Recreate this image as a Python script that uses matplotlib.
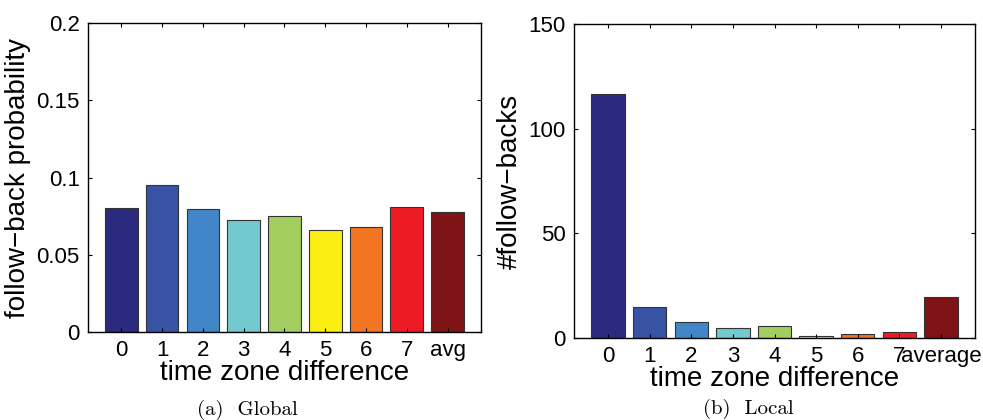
import matplotlib
matplotlib.use("Agg")
import matplotlib.pyplot as plt

# ── Data ──────────────────────────────────────────────────────────────────────
global_labels = ["0", "1", "2", "3", "4", "5", "6", "7", "avg"]
global_prob = [0.0803, 0.0949, 0.0794, 0.0727, 0.0751, 0.0662, 0.0682, 0.0809, 0.0775]

local_labels = ["0", "1", "2", "3", "4", "5", "6", "7", "average"]
local_counts = [116.6, 15.0, 7.8, 4.9, 5.9, 0.8, 1.9, 2.9, 19.5]

bar_colors = ["#2a2a7e", "#3953a4", "#4186c8", "#72c9d0", "#a2cd5f",
              "#fbee13", "#f37421", "#ed1c24", "#7f1416"]

plt.rcParams["font.family"] = ["Liberation Sans", "DejaVu Sans"]
plt.rcParams["axes.linewidth"] = 1.0


def style_axes(ax):
    ax.tick_params(direction="in", length=3, width=0.8, labelsize=16,
                   top=True, right=True, pad=6)
    ax.set_xlim(0.18, 9.82)


fig = plt.figure(figsize=(9.83, 4.2), dpi=100)

# ── (a) Global ────────────────────────────────────────────────────────────────
ax1 = fig.add_axes([0.0895, 0.2095, 0.3998, 0.7357])
x = range(1, len(global_prob) + 1)
ax1.bar(x, global_prob, width=0.8, color=bar_colors,
        edgecolor="#333333", linewidth=0.8)
style_axes(ax1)
ax1.set_ylim(0, 0.2)
ax1.set_yticks([0, 0.05, 0.1, 0.15, 0.2])
ax1.set_yticklabels(["0", "0.05", "0.1", "0.15", "0.2"])
ax1.set_xticks(list(x))
ax1.set_xticklabels(global_labels)
ax1.set_xlabel("time zone difference", fontsize=20, labelpad=-1)
ax1.set_ylabel("follow\u2212back probability", fontsize=20, labelpad=4)

# ── (b) Local ─────────────────────────────────────────────────────────────────
ax2 = fig.add_axes([0.5839, 0.1952, 0.408, 0.7476])
x = range(1, len(local_counts) + 1)
ax2.bar(x, local_counts, width=0.8, color=bar_colors,
        edgecolor="#333333", linewidth=0.8)
style_axes(ax2)
ax2.set_ylim(0, 150)
ax2.set_yticks([0, 50, 100, 150])
ax2.set_xticks(list(x))
ax2.set_xticklabels(local_labels)
ax2.set_xlabel("time zone difference", fontsize=20, labelpad=-1)
ax2.set_ylabel("#follow\u2212backs", fontsize=20, labelpad=4)

# sub-captions
fig.text(0.252, 0.024, "(a)  Global", family="cmr10", fontsize=15,
         ha="center", va="center")
fig.text(0.761, 0.026, "(b)  Local", family="cmr10", fontsize=15,
         ha="center", va="center")

fig.savefig("out.png", dpi=100)
